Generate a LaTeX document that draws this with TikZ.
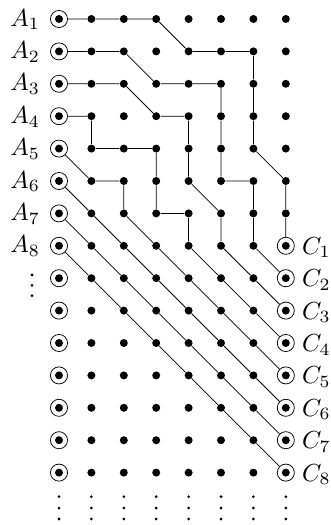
\documentclass[tikz,border=0pt]{standalone}
\begin{document}
\begin{tikzpicture}[x=0.6cm,y=0.6cm,
  dotn/.style={circle,fill=black,inner sep=0pt,minimum size=4.2pt},
  odotn/.style={circle,draw=black,line width=0.4pt,inner sep=0pt,minimum size=9pt,
     path picture={\fill[black] (path picture bounding box.center) circle (2.1pt);}},
  wire/.style={line width=0.4pt,black},
  lab/.style={inner sep=0pt,scale=1.3},
  vdot/.style={circle,fill=black,inner sep=0pt,minimum size=1.6pt}]
\useasboundingbox (-1.821,0.586) rectangle (8.364,-15.617);
% grid
\foreach \r in {0,...,14}{
  \node[odotn] (p-0-\r) at (0,-\r) {};
  \foreach \c in {1,...,6}{ \node[dotn] (p-\c-\r) at (\c,-\r) {}; }
}
\foreach \r in {0,...,6}{ \node[dotn] (p-7-\r) at (7,-\r) {}; }
\foreach \r in {7,...,14}{ \node[odotn] (p-7-\r) at (7,-\r) {}; }
% labels
\foreach \j in {1,...,8}{
  \node[lab,anchor=base east] (a\j) at (-0.57,{-(\j-1)-0.22}) {$A_{\j}$};
  \node[lab,anchor=base west] (c\j) at (7.485,{-(\j+6)-0.26}) {$C_{\j}$};
}
% vertical ellipses
\foreach \k/\y in {1/-7.901,2/-8.219,3/-8.540}{ \node[vdot] (vl\k) at (-0.833,\y) {}; }
\foreach \c in {0,...,7}{
  \foreach \k/\y in {1/-14.744,2/-15.093,3/-15.432}{ \node[vdot] (v\c-\k) at (\c,\y) {}; }
}
% wires
\draw[wire] (p-0-0) -- (p-1-0) -- (p-2-0) -- (p-3-0) -- (p-4-1) -- (p-5-1) -- (p-6-1) -- (p-6-2) -- (p-6-3) -- (p-6-4) -- (p-7-5) -- (p-7-6) -- (p-7-7);
\draw[wire] (p-0-1) -- (p-1-1) -- (p-2-1) -- (p-3-2) -- (p-4-2) -- (p-5-2) -- (p-5-3) -- (p-5-4) -- (p-5-5) -- (p-6-5) -- (p-6-6) -- (p-6-7) -- (p-7-8);
\draw[wire] (p-0-2) -- (p-1-2) -- (p-2-2) -- (p-3-3) -- (p-4-3) -- (p-4-4) -- (p-4-5) -- (p-5-6) -- (p-5-7) -- (p-6-8) -- (p-7-9);
\draw[wire] (p-0-3) -- (p-1-3) -- (p-1-4) -- (p-2-4) -- (p-3-4) -- (p-3-5) -- (p-3-6) -- (p-4-6) -- (p-4-7) -- (p-5-8) -- (p-6-9) -- (p-7-10);
\draw[wire] (p-0-4) -- (p-1-5) -- (p-2-5) -- (p-2-6) -- (p-3-7) -- (p-4-8) -- (p-5-9) -- (p-6-10) -- (p-7-11);
\draw[wire] (p-0-5) -- (p-1-6) -- (p-2-7) -- (p-3-8) -- (p-4-9) -- (p-5-10) -- (p-6-11) -- (p-7-12);
\draw[wire] (p-0-6) -- (p-1-7) -- (p-2-8) -- (p-3-9) -- (p-4-10) -- (p-5-11) -- (p-6-12) -- (p-7-13);
\draw[wire] (p-0-7) -- (p-1-8) -- (p-2-9) -- (p-3-10) -- (p-4-11) -- (p-5-12) -- (p-6-13) -- (p-7-14);
\end{tikzpicture}
\end{document}
